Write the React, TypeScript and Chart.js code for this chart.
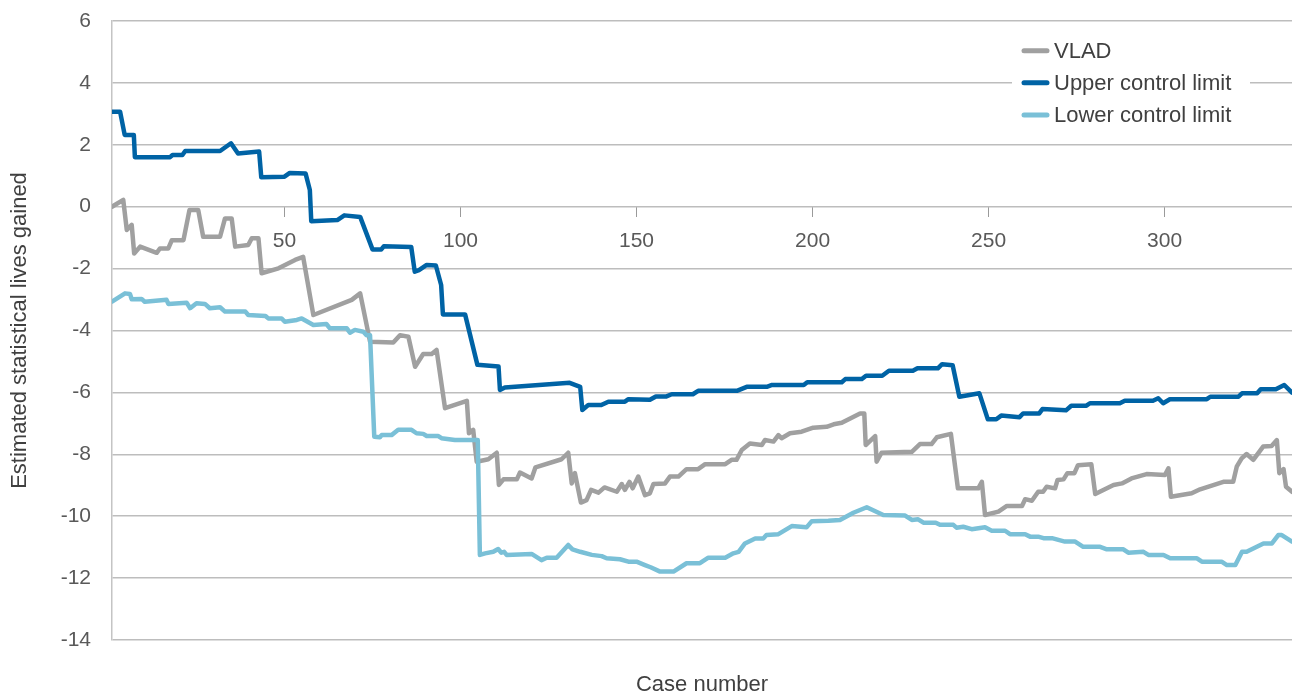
import React, { useEffect, useRef } from "react";
import { Chart, registerables } from "chart.js";

Chart.register(...registerables);

// ---- Data ----
const seriesNames = ["VLAD", "Upper control limit", "Lower control limit"];
const xTitle = "Case number";
const yTitle = "Estimated statistical lives gained";
const xTickValues = [50, 100, 150, 200, 250, 300];
const yMin = -14;
const yMax = 6;
const yStep = 2;
const xMin = 1;
const xMax = 336.2;

const vladCases = [
  1, 4.2, 5.2, 6.6, 7.3, 9, 13.7, 14.6, 17, 18, 21.3, 23, 25.5, 26.9, 31.7, 33.1, 35, 36, 39.7, 40.7,
  42.6, 43.5, 48.3, 53, 55.3, 58.2, 69.1, 71.5, 74.3, 80.9, 82.8, 85.2, 87.1, 89.4, 91.8, 93.2, 95.6,
  101.8, 102.4, 103.6, 104.6, 107.9, 110.3, 110.9, 112.2, 116, 116.9, 120.2, 121.3, 128.7, 130.6,
  131.6, 132.5, 134.2, 135.8, 137.1, 139.2, 140.9, 144.4, 145.8, 146.7, 148, 148.9, 150.5, 152.4,
  153.8, 154.8, 158.1, 159.5, 161.9, 164.2, 167.5, 169.5, 175.2, 177, 178.4, 179.9, 182.2, 185.6,
  186.5, 188.9, 190.3, 191.2, 193.6, 196.9, 200.2, 204, 206, 208.3, 210.7, 213.5, 214.7, 215.1,
  217.8, 218.2, 219.6, 228.2, 230.5, 233.8, 235.3, 239.3, 241.3, 247.1, 248.1, 249, 252.8, 255.2,
  259.5, 260.4, 262.3, 264.1, 265.5, 266.5, 268.9, 269.6, 271.3, 272.4, 274.4, 275.4, 279.2, 280.3,
  285.5, 287.9, 290.6, 294.9, 300.1, 301.1, 301.8, 307.7, 310.1, 316.7, 319.5, 320.5, 321.9, 323.3,
  325.2, 328, 330.4, 331.9, 332.6, 333.8, 334.5, 336.2,
];
const vladValues = [
  0, 0.22, -0.75, -0.59, -1.51, -1.29, -1.49, -1.35, -1.35, -1.08, -1.08, -0.11, -0.11, -0.97, -0.97,
  -0.38, -0.38, -1.29, -1.24, -1.02, -1.02, -2.15, -1.99, -1.72, -1.62, -3.5, -3.01, -2.8, -4.36,
  -4.39, -4.15, -4.2, -5.17, -4.76, -4.76, -4.63, -6.51, -6.27, -7.32, -7.21, -8.24, -8.16, -7.95,
  -8.99, -8.81, -8.81, -8.59, -8.78, -8.42, -8.16, -7.95, -8.94, -8.61, -9.56, -9.48, -9.15, -9.24,
  -9.07, -9.21, -8.96, -9.15, -8.89, -9.1, -8.72, -9.32, -9.26, -8.96, -8.94, -8.72, -8.72, -8.48,
  -8.48, -8.32, -8.32, -8.18, -8.18, -7.86, -7.65, -7.7, -7.54, -7.59, -7.38, -7.48, -7.32, -7.27,
  -7.14, -7.11, -7.03, -6.98, -6.84, -6.68, -6.68, -7.7, -7.41, -8.24, -7.95, -7.92, -7.67, -7.67,
  -7.45, -7.34, -9.1, -9.1, -8.89, -9.96, -9.85, -9.67, -9.67, -9.45, -9.5, -9.21, -9.21, -9.05,
  -9.1, -8.83, -8.81, -8.61, -8.61, -8.35, -8.32, -9.28, -8.99, -8.94, -8.78, -8.64, -8.67, -8.45,
  -9.37, -9.26, -9.13, -8.89, -8.89, -8.4, -8.13, -7.99, -8.18, -7.75, -7.73, -7.54, -8.61, -8.48,
  -9.05, -9.21,
];

const upperCases = [
  1, 3.3, 4.6, 7.2, 7.5, 17.5, 18.2, 21, 21.8, 31.7, 34.8, 36.8, 42.8, 43.4, 50, 51.5, 56, 57.2,
  57.6, 65, 67, 71.5, 75, 77.5, 78.2, 86, 87, 88.2, 90.4, 93, 94.5, 95, 101.3, 104.8, 110.8, 111.2,
  112.6, 131, 134, 134.6, 136.3, 140, 142, 146.7, 147.7, 153.8, 155.5, 158.5, 160, 166, 167.5,
  178.5, 181.3, 187, 188.5, 197.5, 198.5, 208.3, 209.3, 214, 215.2, 219.8, 221.7, 228.5, 229.8,
  235.6, 236.8, 239.8, 241.7, 247.4, 249.8, 252.2, 253.6, 258.8, 259.8, 264.4, 265.3, 272, 273.5,
  277.8, 278.8, 287.3, 288.7, 296.7, 298.2, 299.6, 301.5, 312, 313, 321, 322, 326.3, 327.3, 331.6,
  334, 336.2,
];
const upperValues = [
  3.07, 3.07, 2.32, 2.32, 1.6, 1.6, 1.67, 1.67, 1.8, 1.8, 2.05, 1.72, 1.78, 0.95, 0.97, 1.09, 1.07,
  0.54, -0.47, -0.43, -0.28, -0.33, -1.38, -1.38, -1.28, -1.3, -2.1, -2.05, -1.88, -1.9, -2.53,
  -3.48, -3.48, -5.11, -5.16, -5.92, -5.84, -5.69, -5.82, -6.57, -6.41, -6.41, -6.3, -6.3, -6.22,
  -6.24, -6.13, -6.13, -6.06, -6.06, -5.95, -5.95, -5.82, -5.82, -5.76, -5.76, -5.67, -5.67, -5.57,
  -5.57, -5.46, -5.46, -5.3, -5.3, -5.22, -5.22, -5.09, -5.12, -6.14, -6.03, -6.87, -6.87, -6.75,
  -6.8, -6.68, -6.68, -6.54, -6.58, -6.43, -6.43, -6.35, -6.35, -6.27, -6.27, -6.19, -6.35, -6.22,
  -6.22, -6.14, -6.14, -6.03, -6.03, -5.9, -5.9, -5.76, -6.01,
];

const lowerCases = [
  1, 4.7, 6.1, 6.6, 9.4, 10.3, 16.5, 17, 22.2, 23.2, 25, 27.4, 28.8, 31.7, 33.1, 38.9, 39.7, 44.6,
  45.4, 49.2, 50.1, 53.5, 54.9, 58.2, 61.9, 62.9, 67.7, 68.6, 70, 72.4, 73.3, 74.3, 75.5, 77.1, 77.6,
  80.4, 82.3, 86.1, 87.5, 89.4, 90.4, 93.7, 94.6, 98.4, 104.9, 105.5, 107, 109.3, 110.7, 111.6,
  112.4, 113.1, 120.2, 123, 124.5, 127.3, 130.6, 131.8, 134, 137.3, 140.1, 141.5, 145.3, 147.7, 150,
  152.4, 154, 156.7, 160.5, 164.2, 168, 170.4, 175.2, 177.5, 179, 180.8, 183.7, 186, 186.9, 190.3,
  194.1, 198.3, 199.8, 204.5, 207.8, 211.6, 215.4, 220.1, 226.3, 228.2, 230, 231.5, 235, 236.2, 240,
  240.9, 242.8, 245.2, 249, 250.9, 254.7, 256.1, 260.4, 261.8, 264.1, 265.6, 268, 271.7, 274.6,
  276.9, 281.7, 283.6, 288.3, 289.7, 294, 295.4, 299.7, 301.6, 309.2, 310.6, 316.2, 317.7, 320.1,
  322, 323.3, 328.1, 330.5, 332.3, 333.3, 336.2,
];
const lowerValues = [
  -3.07, -2.8, -2.82, -2.99, -2.98, -3.07, -3.01, -3.14, -3.1, -3.28, -3.12, -3.14, -3.28, -3.25,
  -3.39, -3.39, -3.5, -3.53, -3.61, -3.61, -3.72, -3.66, -3.61, -3.82, -3.79, -3.93, -3.93, -4.07,
  -3.98, -4.04, -4.15, -4.15, -7.43, -7.45, -7.38, -7.38, -7.21, -7.21, -7.32, -7.34, -7.41, -7.41,
  -7.48, -7.54, -7.54, -11.25, -11.2, -11.15, -11.06, -11.18, -11.15, -11.25, -11.22, -11.42, -11.34,
  -11.34, -10.93, -11.07, -11.15, -11.25, -11.29, -11.36, -11.39, -11.47, -11.47, -11.58, -11.65,
  -11.79, -11.79, -11.52, -11.52, -11.34, -11.34, -11.2, -11.15, -10.88, -10.72, -10.72, -10.61,
  -10.58, -10.32, -10.36, -10.16, -10.15, -10.12, -9.89, -9.71, -9.96, -9.98, -10.12, -10.1, -10.21,
  -10.21, -10.28, -10.28, -10.37, -10.34, -10.42, -10.36, -10.47, -10.47, -10.58, -10.58, -10.66,
  -10.66, -10.71, -10.71, -10.82, -10.82, -10.99, -10.99, -11.07, -11.07, -11.18, -11.15, -11.25,
  -11.25, -11.36, -11.36, -11.47, -11.47, -11.58, -11.58, -11.15, -11.15, -10.88, -10.88, -10.61,
  -10.61, -10.82,
];

// ---- Styles ----
const colors = ["#a0a0a0", "#0063a5", "#7ac0d7"];
const FONT = '"Liberation Sans", Arial, Helvetica, sans-serif';

function toPoints(xs: number[], ys: number[]) {
  return xs.map((x, i) => ({ x, y: ys[i] }));
}

function zeroPadding(scale: any) {
  scale.paddingTop = 0;
  scale.paddingBottom = 0;
  scale.paddingLeft = 0;
  scale.paddingRight = 0;
}

const overlayPlugin = {
  id: "overlay",
  afterDraw(chart: any) {
    const { ctx, chartArea } = chart;
    ctx.save();
    // Axis titles
    ctx.fillStyle = "#404040";
    ctx.font = `22px ${FONT}`;
    ctx.textAlign = "center";
    ctx.textBaseline = "middle";
    ctx.fillText(xTitle, (chartArea.left + chartArea.right) / 2, 685);
    ctx.save();
    ctx.translate(20, (chartArea.top + chartArea.bottom) / 2);
    ctx.rotate(-Math.PI / 2);
    ctx.fillText(yTitle, 0, 0);
    ctx.restore();

    // Legend
    const order = [0, 1, 2];
    const rows = [50.7, 82.7, 115];
    ctx.fillStyle = "#ffffff";
    ctx.fillRect(1012, 34, 238, 98);
    ctx.font = `22px ${FONT}`;
    ctx.textAlign = "left";
    order.forEach((di, k) => {
      const y = rows[k];
      ctx.strokeStyle = colors[di];
      ctx.lineWidth = 5;
      ctx.lineCap = "round";
      ctx.beginPath();
      ctx.moveTo(1024, y);
      ctx.lineTo(1047, y);
      ctx.stroke();
      ctx.fillStyle = "#404040";
      ctx.fillText(seriesNames[di], 1054, y + 1);
    });
    ctx.restore();
  },
};

export default function App() {
  const ref = useRef<HTMLCanvasElement | null>(null);

  useEffect(() => {
    if (!ref.current) return;
    const chart = new Chart(ref.current, {
      type: "line",
      data: {
        datasets: [
          {
            label: seriesNames[0],
            data: toPoints(vladCases, vladValues),
            borderColor: colors[0],
            backgroundColor: colors[0],
            order: 3,
          },
          {
            label: seriesNames[1],
            data: toPoints(upperCases, upperValues),
            borderColor: colors[1],
            backgroundColor: colors[1],
            order: 2,
          },
          {
            label: seriesNames[2],
            data: toPoints(lowerCases, lowerValues),
            borderColor: colors[2],
            backgroundColor: colors[2],
            order: 1,
          },
        ].map((d) => ({
          ...d,
          borderWidth: 4.5,
          pointRadius: 0,
          pointHoverRadius: 0,
          tension: 0,
          fill: false,
          borderJoinStyle: "round" as const,
          borderCapStyle: "round" as const,
        })),
      },
      options: {
        animation: false,
        responsive: false,
        maintainAspectRatio: false,
        layout: { padding: { left: 0, right: 0, top: 21, bottom: 55 } },
        plugins: {
          legend: { display: false },
          tooltip: { enabled: false },
          title: { display: false },
        },
        scales: {
          x: {
            type: "linear",
            min: xMin,
            max: xMax,
            position: { y: 0 } as any,
            afterBuildTicks: (scale: any) => {
              scale.ticks = xTickValues.map((v) => ({ value: v }));
            },
            afterFit: (scale: any) => {
              zeroPadding(scale);
            },
            ticks: {
              autoSkip: false,
              maxRotation: 0,
              padding: 12,
              color: "#595959",
              font: { family: FONT, size: 21 },
            },
            grid: {
              drawOnChartArea: false,
              drawTicks: true,
              tickLength: 10,
              color: "#9a9a9a",
              lineWidth: 1,
            },
            border: { display: false },
          },
          y: {
            type: "linear",
            min: yMin,
            max: yMax,
            afterFit: (scale: any) => {
              scale.width = 112;
              zeroPadding(scale);
            },
            ticks: {
              stepSize: yStep,
              padding: 21,
              color: "#595959",
              font: { family: FONT, size: 21 },
            },
            grid: {
              drawTicks: false,
              color: "#bdbdbd",
              lineWidth: 1.5,
            },
            border: { display: true, color: "#c4c4c4", width: 1.5 },
          },
        },
      },
      plugins: [overlayPlugin],
    });
    return () => chart.destroy();
  }, []);

  return (
    <div style={{ position: "fixed", left: 0, top: 0, width: 1292, height: 695, background: "#fff" }}>
      <canvas ref={ref} width={1292} height={695} style={{ display: "block" }} />
    </div>
  );
}
